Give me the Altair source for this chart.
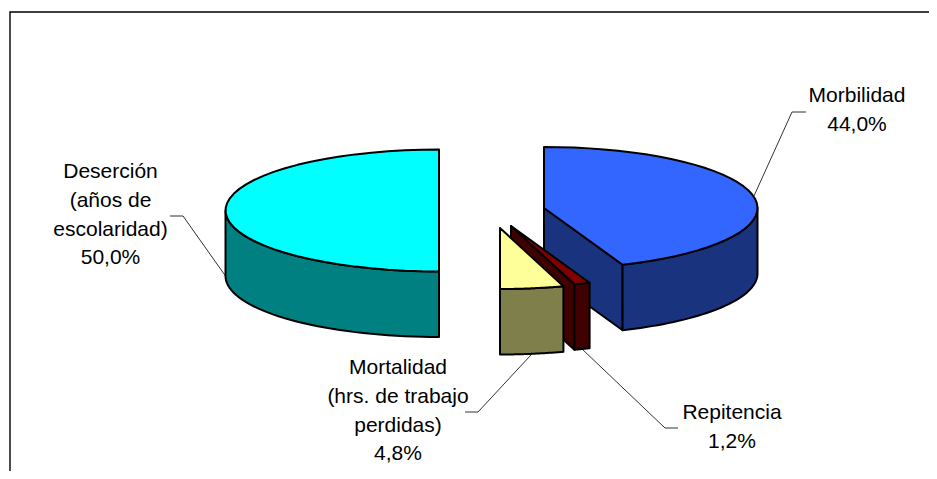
import numpy as np
import altair as alt

# Data
names = ["Morbilidad", "Repitencia", "Mortalidad", "Deserción"]
shares = [44.0, 1.2, 4.8, 50.0]
label_lines = [
    ["Morbilidad", "44,0%"],
    ["Repitencia", "1,2%"],
    ["Mortalidad", "(hrs. de trabajo", "perdidas)", "4,8%"],
    ["Deserción", "(años de", "escolaridad)", "50,0%"],
]
top_colors = ["#3366FF", "#800000", "#FFFF99", "#00FFFF"]
side_colors = ["#19337F", "#400000", "#7F7F4C", "#008080"]

# Layout of the exploded pie, in page pixels
W, H = 921, 463
centers = [(544, 208), (511, 226), (500, 228), (439, 210.5)]
RX, RY, DEPTH = 213.5, 61, 65.5
label_pos = [(857, 96), (732, 413), (398, 368), (110.5, 172)]
line_step = 28.8
# leader: elbow and end relative to the anchor on the rim
leaders = [((792, 112), (806, 112)), ((665, 428), (678, 428)),
           ((478, 412), (465, 412)), ((183, 216), (170, 216))]
drawing_order = [3, 0, 1, 2]


def rim(c, a0, a1, n=40, dy=0.0):
    t = np.radians(np.linspace(a0, a1, n))
    return [[float(c[0] + RX * np.sin(v)), float(c[1] - RY * np.cos(v) + dy)] for v in t]


def poly(coords, color):
    ring = coords + [coords[0]]
    return {"type": "Feature", "properties": {"color": color},
            "geometry": {"type": "Polygon", "coordinates": [ring]}}


edges = np.concatenate([[0], np.cumsum(shares)]) * 3.6
features = []
for i in drawing_order:
    c, a0, a1 = centers[i], float(edges[i]), float(edges[i + 1])
    top, side = top_colors[i], side_colors[i]
    w0, w1 = max(a0, 90.0), min(a1, 270.0)
    if a1 < 180 and i != 2:
        p = rim(c, a1, a1, 1)[0]
        features.append(poly([[c[0], c[1]], p, [p[0], p[1] + DEPTH], [c[0], c[1] + DEPTH]], side))
    if w1 > w0:
        features.append(poly(rim(c, w0, w1) + rim(c, w1, w0, dy=DEPTH), side))
    features.append(poly([[c[0], c[1]]] + rim(c, a0, a1), top))

rows = []
text_rows = []
for i, name in enumerate(names):
    mid = float(edges[i] + edges[i + 1]) / 2
    p = rim(centers[i], mid, mid, 1)[0]
    dy = DEPTH if i != 0 else 0
    for k, pt in enumerate([[p[0], p[1] + dy], leaders[i][0], leaders[i][1]]):
        rows.append({"name": name, "k": k, "x": pt[0], "y": pt[1]})
    for j, line in enumerate(label_lines[i]):
        text_rows.append({"x": label_pos[i][0], "y": label_pos[i][1] + j * line_step, "t": line})

frame_rows = [{"k": 0, "x": 10, "y": H + 8}, {"k": 1, "x": 10, "y": 12}, {"k": 2, "x": W + 8, "y": 12}]

xs = alt.Scale(domain=[8, W + 8], range=[0, W], nice=False, zero=False)
ys = alt.Scale(domain=[8, H + 8], range=[0, H], nice=False, zero=False)
X = lambda: alt.X("x:Q", scale=xs, axis=None)
Y = lambda: alt.Y("y:Q", scale=ys, axis=None)

faces = alt.Chart(alt.Data(values=features)).mark_geoshape(
    stroke="#000000", strokeWidth=2, strokeJoin="round"
).encode(fill=alt.Fill("properties.color:N", scale=None, legend=None)).project(
    type="identity", scale=1, translate=[-8, -8]
)
frame = alt.Chart(alt.Data(values=frame_rows)).mark_line(color="#000000", strokeWidth=1.4).encode(
    x=X(), y=Y(), order="k:Q")
lead = alt.Chart(alt.Data(values=rows)).mark_line(color="#333333", strokeWidth=1).encode(
    x=X(), y=Y(), detail="name:N", order="k:Q")
texts = alt.Chart(alt.Data(values=text_rows)).mark_text(
    font="Liberation Sans", fontSize=21, color="#000000", align="center", baseline="middle"
).encode(x=X(), y=Y(), text="t:N")

chart = alt.layer(frame, lead, faces, texts).properties(
    width=W, height=H, padding=0,
    autosize=alt.AutoSizeParams(type="none"), background="#FFFFFF"
).configure_view(stroke=None)

chart.save("out.html", embed_options={"renderer": "svg", "actions": False})
